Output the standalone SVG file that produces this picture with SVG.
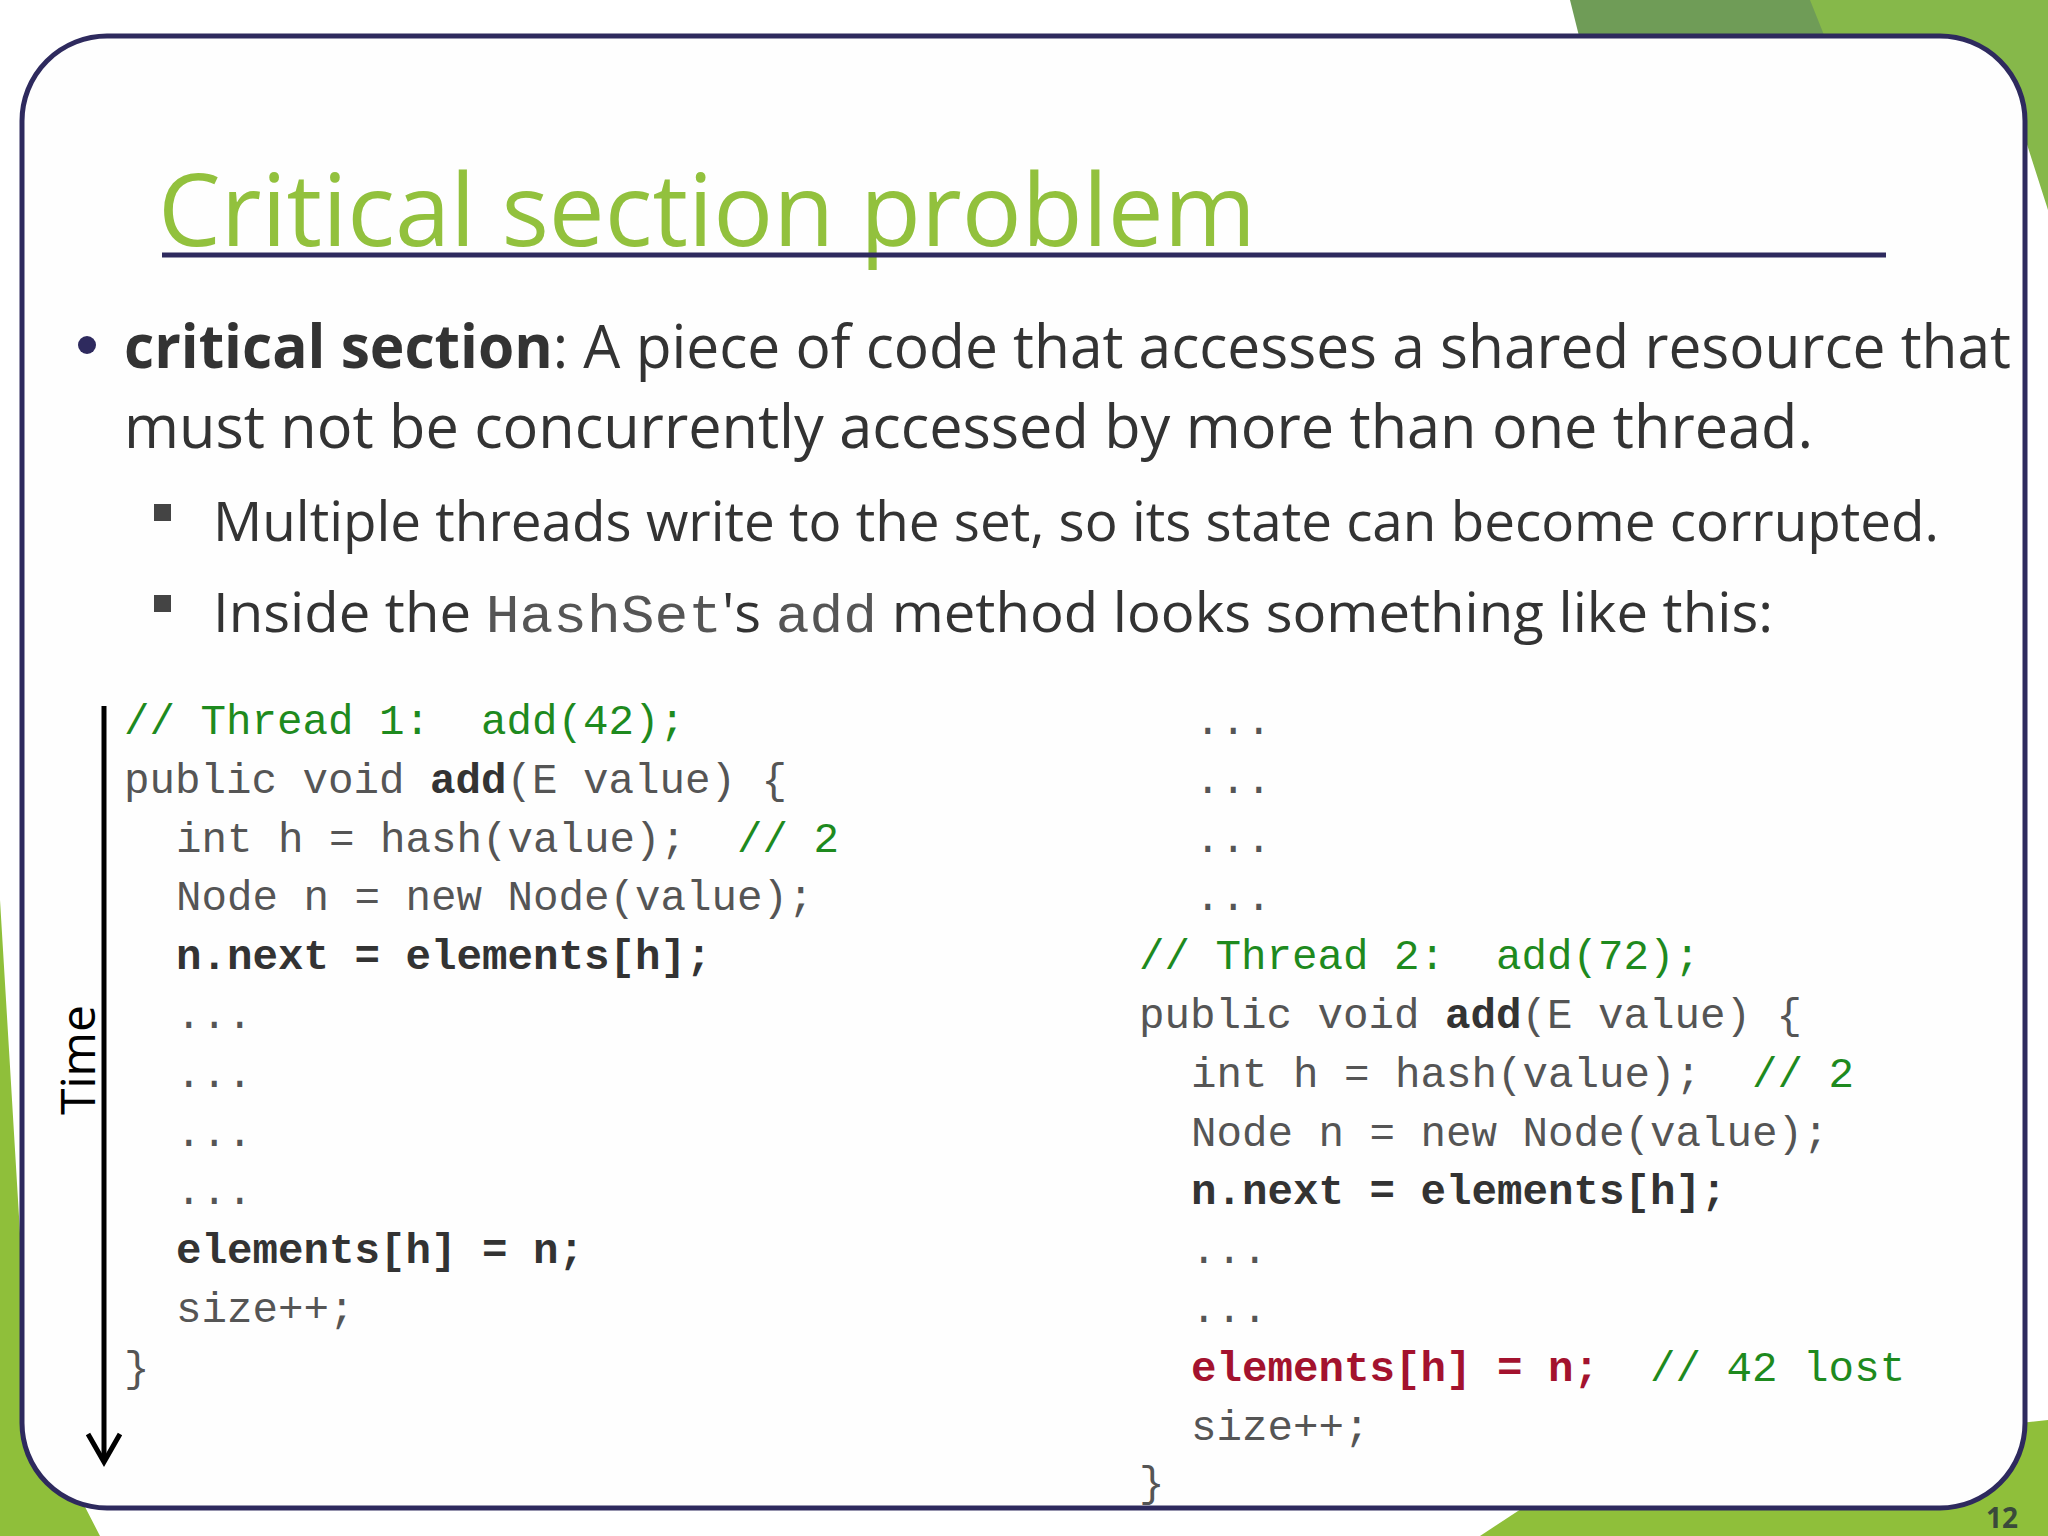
<svg xmlns="http://www.w3.org/2000/svg" width="2048" height="1536" viewBox="0 0 2048 1536">
<style>
.c{font-family:"Liberation Mono","Courier New",monospace;font-size:42.5px;fill:#555;white-space:pre}
.b{font-weight:bold;fill:#333}
.g{fill:#1e8a1e}
.r{fill:#a3122e;font-weight:bold}
.t{font-family:"Open Sans","Noto Sans",sans-serif;fill:#333}
</style>
<rect width="2048" height="1536" fill="#ffffff"/>
<g id="bg">
<polygon points="1570,0 2048,0 2048,210 2000,60" fill="#86b84a"/>
<polygon points="1570,0 1810,0 1830,50 1580,40" fill="#6f9c57"/>
<polygon points="1480,1536 2048,1536 2048,1420 1580,1470" fill="#8fbf3a"/>
<polygon points="0,900 0,1536 100,1536 30,1400" fill="#8fbf3a"/>
</g>
<rect x="22" y="36" width="2003" height="1472" rx="85" fill="#fefefe" stroke="#2e2a5e" stroke-width="5"/>
<text x="2018" y="1528" font-family="Open Sans,sans-serif" font-weight="bold" font-size="28" fill="#3a4a3a" text-anchor="end">12</text>
<g id="title">
<text x="158" y="246" font-family="Open Sans,sans-serif" font-size="100" fill="#92c13d" textLength="1098" lengthAdjust="spacingAndGlyphs">Critical section problem</text>
<line x1="162" y1="255" x2="1886" y2="255" stroke="#2e2a5e" stroke-width="5"/>
</g>
<g id="bullets">
<circle cx="87" cy="345" r="9" fill="#2e2a5e"/>
<text class="t" x="124" y="368" font-size="60" textLength="1887" lengthAdjust="spacingAndGlyphs"><tspan font-weight="bold">critical section</tspan>: A piece of code that accesses a shared resource that</text>
<text class="t" x="124" y="448" font-size="60" textLength="1689" lengthAdjust="spacingAndGlyphs">must not be concurrently accessed by more than one thread.</text>
<rect x="154" y="504" width="17" height="17" fill="#444"/>
<text class="t" x="213" y="541" font-size="54" textLength="1726" lengthAdjust="spacingAndGlyphs">Multiple threads write to the set, so its state can become corrupted.</text>
<rect x="154" y="595" width="17" height="17" fill="#444"/>
<text class="t" x="213" y="632" font-size="54" textLength="1560" lengthAdjust="spacingAndGlyphs">Inside the <tspan font-family="Liberation Mono,monospace" fill="#555">HashSet</tspan>'s <tspan font-family="Liberation Mono,monospace" fill="#555">add</tspan> method looks something like this:</text>
</g>
<g id="thread1">
<text class="c g" x="124" y="734">// Thread 1:  add(42);</text>
<text class="c" x="124" y="793">public void <tspan class="b">add</tspan>(E value) {</text>
<text class="c" x="176" y="852">int h = hash(value);  <tspan class="g">// 2</tspan></text>
<text class="c" x="176" y="910">Node n = new Node(value);</text>
<text class="c b" x="176" y="969">n.next = elements[h];</text>
<text class="c" x="176" y="1028">...</text>
<text class="c" x="176" y="1087">...</text>
<text class="c" x="176" y="1146">...</text>
<text class="c" x="176" y="1204">...</text>
<text class="c b" x="176" y="1263">elements[h] = n;</text>
<text class="c" x="176" y="1322">size++;</text>
<text class="c" x="124" y="1381">}</text>
</g>
<g id="thread2">
<text class="c" x="1195" y="734">...</text>
<text class="c" x="1195" y="793">...</text>
<text class="c" x="1195" y="852">...</text>
<text class="c" x="1195" y="910">...</text>
<text class="c g" x="1139" y="969">// Thread 2:  add(72);</text>
<text class="c" x="1139" y="1028">public void <tspan class="b">add</tspan>(E value) {</text>
<text class="c" x="1191" y="1087">int h = hash(value);  <tspan class="g">// 2</tspan></text>
<text class="c" x="1191" y="1146">Node n = new Node(value);</text>
<text class="c b" x="1191" y="1204">n.next = elements[h];</text>
<text class="c" x="1191" y="1263">...</text>
<text class="c" x="1191" y="1322">...</text>
<text class="c" x="1191" y="1381"><tspan class="r">elements[h] = n;</tspan>  <tspan class="g">// 42 lost</tspan></text>
<text class="c" x="1191" y="1440">size++;</text>
<text class="c" x="1139" y="1496">}</text>
</g>
<g id="connectors">
<line x1="104" y1="706" x2="104" y2="1460" stroke="#000" stroke-width="5"/>
<polyline points="88,1434 104,1462 120,1434" fill="none" stroke="#000" stroke-width="5"/>
<text x="95" y="1060" transform="rotate(-90 95 1060)" text-anchor="middle" font-family="Open Sans,sans-serif" font-size="48" fill="#000">Time</text>
</g>
</svg>
